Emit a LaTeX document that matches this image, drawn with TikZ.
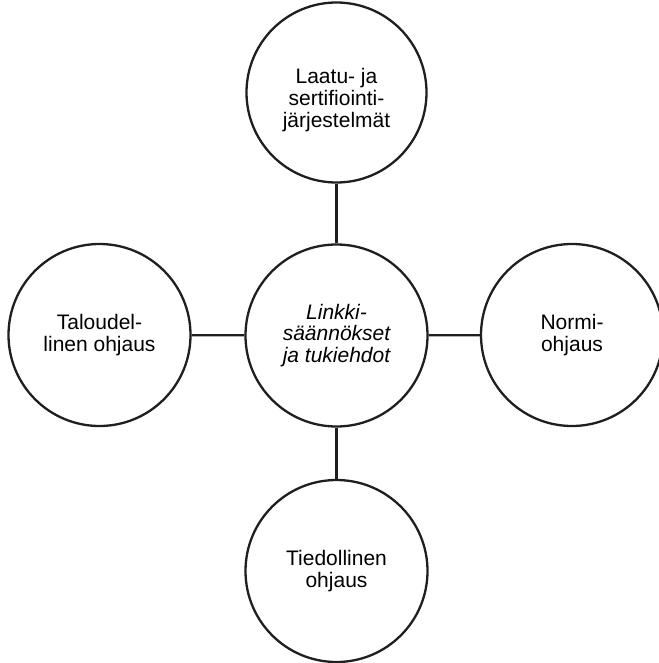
\documentclass[tikz,border=0pt]{standalone}
\usepackage{fontspec}
\setmainfont{Liberation Sans}
\begin{document}
\begin{tikzpicture}[x=1pt,y=-1pt,
  bubble/.style={circle,draw=black!88,line width=2.3pt,minimum size=182pt,inner sep=0pt,
    align=center,font=\fontsize{21}{21.7}\selectfont},
  link/.style={draw=black!88,line width=2.3pt}]
  \useasboundingbox (0,0) rectangle (658,663);
  % centre of the star
  \node[bubble] (hub) at (336.5,335.5) {\itshape Linkki-\\\itshape säännökset\\\itshape ja tukiehdot};
  % satellites
  \node[bubble,minimum size=180pt] (top) at (336.5,92.5) {};
  \node[font=\fontsize{21}{21.7}\selectfont,align=center] (toptext) at (336.5,100) {Laatu- ja\\sertifiointi-\\järjestelmät};
  \node[bubble] (left) at (99.5,335) {Taloudel-\\linen ohjaus};
  \node[bubble] (right) at (572,335) {Normi-\\ohjaus};
  \node[bubble] (bottom) at (336.5,571) {Tiedollinen\\ohjaus};
  % spokes
  \draw[link] (top) -- (hub);
  \draw[link] (left) -- (hub);
  \draw[link] (right) -- (hub);
  \draw[link] (bottom) -- (hub);
\end{tikzpicture}
\end{document}
